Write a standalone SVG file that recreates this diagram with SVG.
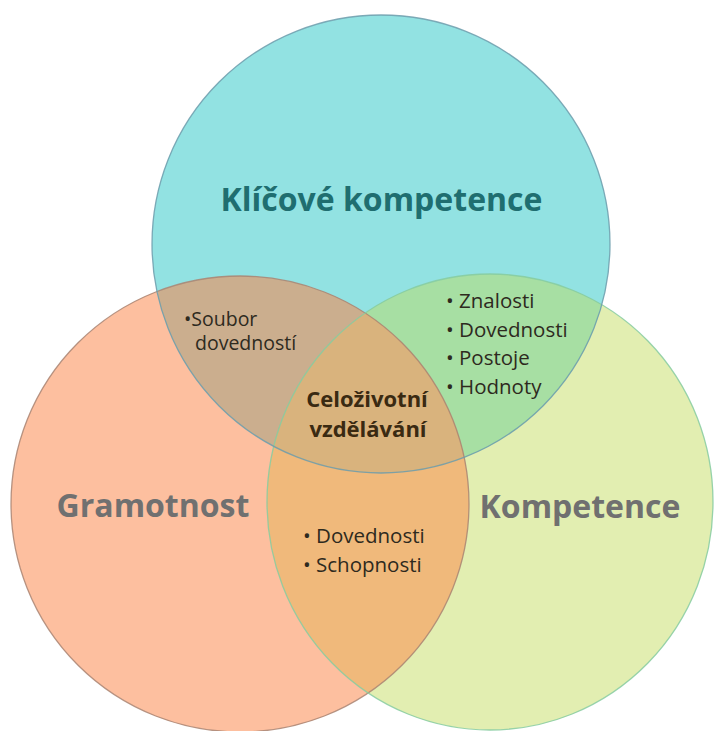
<svg xmlns="http://www.w3.org/2000/svg" width="714" height="731" viewBox="0 0 714 731">
<style>
.lbl{font-family:"Open Sans","Noto Sans","Liberation Sans",sans-serif}
.big{font-weight:700;font-size:32px;text-anchor:middle}
.item{font-size:20.5px;fill:#2e2a1e}
.small{font-size:19.5px}
.ctr{font-weight:700;font-size:22px;fill:#3a2a12;text-anchor:middle}
</style>
<defs>
<clipPath id="cTop"><circle cx="381" cy="244" r="229"/></clipPath>
<clipPath id="cLeft"><ellipse cx="240" cy="504" rx="229" ry="228"/></clipPath>
<clipPath id="cRight"><ellipse cx="490" cy="502" rx="223" ry="228"/></clipPath>
</defs>
<rect width="714" height="731" fill="#ffffff"/>
<g id="gramotnost">
<ellipse cx="240" cy="504" rx="229" ry="228" fill="#fdbf9f"/>
</g>
<g id="kompetence">
<ellipse cx="490" cy="502" rx="223" ry="228" fill="#e2eeb1"/>
</g>
<g id="klicove-kompetence">
<circle cx="381" cy="244" r="229" fill="#92e2e2"/>
</g>
<g id="overlaps">
<g clip-path="url(#cTop)"><ellipse cx="240" cy="504" rx="229" ry="228" fill="#cbae8e"/></g>
<g clip-path="url(#cTop)"><ellipse cx="490" cy="502" rx="223" ry="228" fill="#a7dfa3"/></g>
<g clip-path="url(#cLeft)"><ellipse cx="490" cy="502" rx="223" ry="228" fill="#f0b97b"/></g>
<g clip-path="url(#cTop)"><g clip-path="url(#cLeft)"><ellipse cx="490" cy="502" rx="223" ry="228" fill="#d9b37d"/></g></g>
</g>
<g id="outlines" fill="none" stroke-width="1.3">
<ellipse cx="240" cy="504" rx="229" ry="228" stroke="#a98472" stroke-opacity="0.85"/>
<ellipse cx="490" cy="502" rx="223" ry="228" stroke="#86cba0" stroke-opacity="0.85"/>
<circle cx="381" cy="244" r="229" stroke="#6c9cab" stroke-opacity="0.85"/>
</g>
<g id="labels" class="lbl">
<text class="lbl big" x="381.5" y="211" fill="#1f6e70">Klíčové kompetence</text>
<text class="lbl big" x="153" y="517" fill="#707070">Gramotnost</text>
<text class="lbl big" x="580" y="518" fill="#707070">Kompetence</text>
</g>
<g id="soubor" class="lbl">
<text class="lbl item small" x="184" y="326">•Soubor</text>
<text class="lbl item small" x="195" y="350">dovedností</text>
</g>
<g id="klicove-kompetence-items" class="lbl">
<text class="lbl item" x="446" y="308">• Znalosti</text>
<text class="lbl item" x="446" y="337">• Dovednosti</text>
<text class="lbl item" x="446" y="365">• Postoje</text>
<text class="lbl item" x="446" y="394">• Hodnoty</text>
</g>
<g id="celozivotni" class="lbl">
<text class="lbl ctr" x="367" y="407">Celoživotní</text>
<text class="lbl ctr" x="368" y="437">vzdělávání</text>
</g>
<g id="dovednosti-schopnosti" class="lbl">
<text class="lbl item" x="303" y="543">• Dovednosti</text>
<text class="lbl item" x="303" y="572">• Schopnosti</text>
</g>
<g id="connectors"/>
</svg>
